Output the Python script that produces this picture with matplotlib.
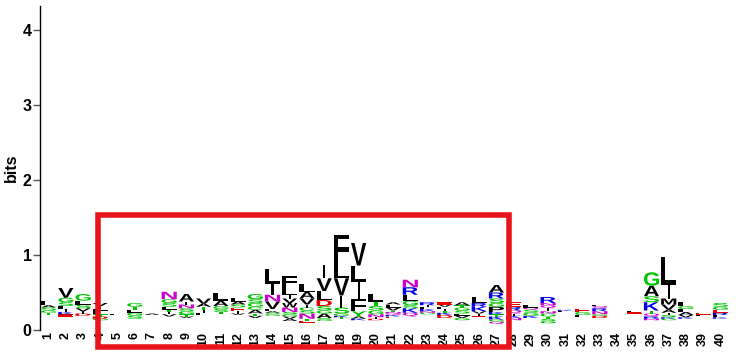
import matplotlib
matplotlib.use("Agg")
import matplotlib.pyplot as plt
from matplotlib.textpath import TextPath
from matplotlib.patches import PathPatch, Rectangle
from matplotlib.font_manager import FontProperties
from matplotlib.transforms import Affine2D

## --Sequence logo data (bits), letters listed bottom -> top
positions = list(range(1, 41))
# part of each stack made of letters too small to be drawn
hidden = [.20, .18, .19, .13, .20, .15, .20, .18, .16, .20,
          .21, .20, .16, .19, .12, .10, .12, .15, .13, .13,
          .16, .18, .21, .16, .13, .17, .08, .13, .16, .09,
          .24, .17, .16, 0.0, .22, .13, .13, .15, .19, .15]
letters = ["TGSAL", "EKILSGV", "DIVSLG", "GDTLFIV", "L", "SGLTG", "A", "VITLSGN",
           "VTGSNIA", "LITAV", "TSGAL", "VIESAL", "VTACGSG", "GSALVNIL",
           "AVGSNWVILF", "ETNSCIVAL", "GSAGSDLVI", "TKGSIVLF", "KAYFILV",
           "DINGSTL", "EKQNTVLA", "QKSGLRN", "GNKLIR", "DKTILVE", "GVLSGTA",
           "EIVKRL", "QGKTKPGSRA", "NKIQRE", "KGSQL", "GSTGNIQNR", "LK", "LGE",
           "DGNRQL", "", "EL", "NRQTKSAG", "GKSIAVMIL", "KVALGF", "LE", "KLREGS"]
heights = [
    [.03, .03, .04, .03, .06],
    [.03, .03, .04, .04, .05, .06, .13],
    [.03, .03, .04, .05, .05, .09],
    [.02, .03, .03, .03, .04, .04, .04],
    [.02],
    [.04, .04, .04, .04, .05],
    [.02],
    [.03, .03, .03, .04, .05, .05, .10],
    [.02, .03, .04, .04, .05, .04, .10],
    [.03, .04, .04, .04, .07],
    [.03, .04, .04, .07, .11],
    [.02, .03, .05, .04, .04, .05],
    [.03, .03, .05, .04, .05, .05, .07],
    [.02, .02, .02, .03, .10, .09, .15, .20],
    [.03, .03, .03, .03, .06, .06, .06, .05, .10, .15],
    [.02, .03, .07, .04, .04, .04, .08, .09, .10],
    [.02, .02, .06, .04, .06, .08, .12, .17, .18],
    [.02, .02, .03, .08, .16, .23, .22, .36],
    [.02, .03, .07, .17, .22, .22, .30],
    [.02, .02, .04, .05, .06, .06, .10],
    [.02, .02, .02, .02, .02, .04, .04, .03],
    [.05, .06, .04, .06, .08, .10, .10],
    [.02, .02, .03, .03, .02, .04],
    [.04, .03, .02, .03, .03, .03, .03],
    [.03, .03, .03, .04, .04, .03, .04],
    [.02, .03, .03, .06, .05, .08],
    [.03, .03, .04, .03, .03, .07, .05, .06, .08, .10],
    [.03, .03, .03, .04, .05, .06],
    [.03, .04, .04, .03, .03],
    [.03, .03, .03, .04, .03, .04, .04, .03, .08],
    [.015, .015],
    [.03, .04, .04],
    [.03, .02, .04, .04, .03, .02],
    [],
    [.015, .02],
    [.02, .03, .04, .04, .11, .08, .14, .18],
    [.02, .02, .03, .03, .04, .07, .08, .18, .38],
    [.02, .03, .04, .04, .04, .06],
    [.015, .02],
    [.02, .03, .03, .04, .04, .05],
]
highlight = (4, 27)

## --colour scheme (chemistry)
colors = {}
for aa in "GSTYC":
    colors[aa] = "#00c400"
for aa in "NQ":
    colors[aa] = "#cc00cc"
for aa in "KRH":
    colors[aa] = "#0000e6"
for aa in "DE":
    colors[aa] = "#e60000"
for aa in "PAWFLIMV":
    colors[aa] = "black"

letter_font = FontProperties(family="Liberation Sans", weight="bold")
col_width = 0.88
narrow = {"I": 0.14}


def draw_letter(ax, ch, x, y0, h):
    tp = TextPath((0, 0), ch, size=1, prop=letter_font)
    bb = tp.get_extents()
    w = col_width * narrow.get(ch, 1.0)
    tr = (Affine2D().translate(-bb.x0, -bb.y0)
          .scale(w / bb.width, h / bb.height)
          .translate(x - w / 2, y0))
    ax.add_patch(PathPatch(tr.transform_path(tp), fc=colors[ch], ec="none", lw=0))


fig = plt.figure(figsize=(7.36, 3.6), dpi=100)
ax = fig.add_axes([40 / 736, 30 / 360, 689 / 736, 324 / 360])

for pos, base, seq, hs in zip(positions, hidden, letters, heights):
    y = base
    for ch, h in zip(seq, hs):
        draw_letter(ax, ch, pos, y, h)
        y += h

ax.set_xlim(0.5, 40.5)
ax.set_ylim(0, 4.32)
ax.set_xticks(positions)
ax.set_xticklabels([str(p) for p in positions], rotation=90, fontsize=9,
                   fontweight="bold", family="Liberation Sans", va="top")
ax.tick_params(axis="x", length=0, pad=1.5)
ax.set_yticks([0, 1, 2, 3, 4])
ax.set_yticklabels(["0", "1", "2", "3", "4"], fontsize=11.5, fontweight="bold",
                   family="Liberation Sans")
ax.tick_params(axis="y", length=5, width=1, color="#555555", pad=1)
ax.set_ylabel("bits", fontsize=11.5, fontweight="bold", family="Liberation Sans", labelpad=3)
for s in ["top", "right", "bottom"]:
    ax.spines[s].set_visible(False)
ax.spines["left"].set_linewidth(1)

## --highlight box
x0, x1 = highlight
ax.add_patch(Rectangle((x0 - 0.16, -0.23), (x1 - x0) + 0.86, 1.76, fill=False,
                       ec="#e8141b", lw=4, clip_on=False, zorder=5))

fig.savefig("out.png", dpi=100)
